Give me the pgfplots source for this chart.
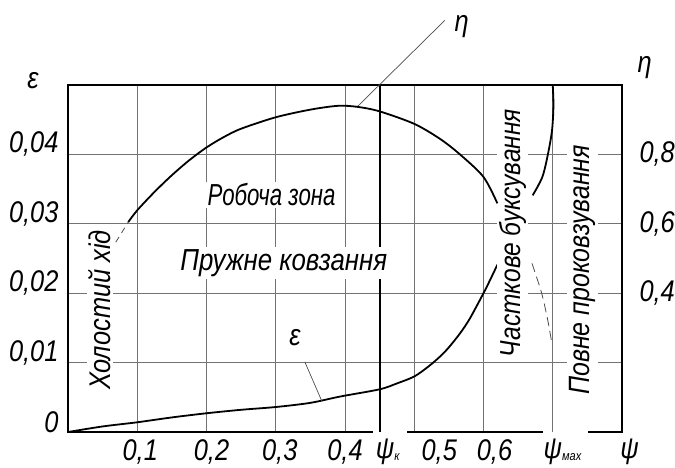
\documentclass[border=0pt]{standalone}
\usepackage{graphicx}
\usepackage{pgfplots}
\pgfplotsset{compat=1.18}
\usepackage{fontspec}
\setmainfont{Liberation Sans}[FakeStretch=0.85]
\newcommand{\lbl}{\itshape\fontsize{30}{32}\selectfont}
\newcommand{\txt}[1]{\itshape\fontsize{#1}{#1}\selectfont}
\begin{document}
\begin{tikzpicture}
\begin{axis}[
  scale only axis, width=554bp, height=347bp,
  xmin=0, xmax=0.8, ymin=0, ymax=0.05,
  axis line style={line width=2.2bp},
  clip=false, tick pos=left,
  scaled y ticks=false, scaled x ticks=false,
  xtick={0.1,0.2,0.3,0.4,0.5,0.6,0.7},
  xticklabels={{\hspace*{6bp}0,1},{\hspace*{10bp}0,2},{\hspace*{8bp}0,3},{0,4},{\hspace*{50bp}0,5},{\hspace*{22bp}0,6},{}},
  ytick={0,0.01,0.02,0.03,0.04},
  yticklabels={{0},{0,01},{0,02},{0,03},{0,04}},
  major tick length=0pt,
  grid=major,
  major grid style={black!55, line width=0.8bp},
  xticklabel style={font=\lbl, anchor=center, yshift=-20bp},
  yticklabel style={font=\lbl, anchor=east, xshift=-6bp, yshift=10bp},
]
% epsilon curve
\addplot[black, line width=1.8bp, smooth] coordinates {
 (0,0) (0.05,0.0008) (0.1,0.0014) (0.15,0.0021) (0.2,0.0027) (0.25,0.0032)
 (0.3,0.0036) (0.35,0.0042) (0.3925,0.0051) (0.45,0.00615) (0.475,0.0070) (0.5,0.0080)
 (0.52,0.0094) (0.537,0.01085) (0.55,0.0122) (0.566,0.0142) (0.58,0.0163) (0.6,0.0200) (0.61,0.0220) (0.62,0.0241)};
% dashed continuation
\addplot[black!70, line width=0.8bp, dash pattern=on 9bp off 5bp, smooth] coordinates {
 (0.67,0.0243) (0.684,0.020) (0.693,0.016) (0.698,0.0132)};
% gaps in the bottom axis line
\node[fill=white, inner sep=0pt, minimum width=34bp, minimum height=6bp] at (axis cs:0.4646,0) {};
\node[fill=white, inner sep=0pt, minimum width=45bp, minimum height=6bp] at (axis cs:0.718,0) {};
\draw[line width=2.2bp] (axis cs:0.45,0) -- (axis cs:0.45,0.05);
\draw[black!55, line width=0.8bp] (axis cs:0.7,0) -- (axis cs:0.7,0.003);
% texts
\node[font=\txt{30}, rotate=90, fill=white, inner sep=2bp] at (axis cs:0.046,0.01758) {Холостий хід};
\node[font=\txt{30.5}, fill=white, inner sep=2bp] at (axis cs:0.294,0.03415) {\scalebox{0.86}[1]{Робоча зона}};
\node[font=\txt{30.5}, fill=white, inner sep=2bp] at (axis cs:0.3117,0.02435) {Пружне ковзання};
\node[font=\txt{29}, rotate=90, fill=white, inner sep=2bp] at (axis cs:0.642,0.02867) {Часткове буксування};
\node[font=\txt{29.5}, rotate=90, fill=white, inner sep=2bp] at (axis cs:0.743,0.02334) {Повне проковзування};
\node[font=\lbl] at (axis cs:0.3276,0.01354) {ε};
\draw[black!70, line width=0.7bp] (axis cs:0.342,0.0101) -- (axis cs:0.3665,0.00446);
\node[font=\lbl] at (axis cs:-0.0505,0.0507) {ε};
\node[font=\lbl] at (axis cs:0.811,-0.0029) {ψ};
\node[font=\lbl] at (axis cs:0.4618,-0.0029) {ψ\raisebox{-2bp}{\fontsize{13}{13}\selectfont к}};
\node[font=\lbl] at (axis cs:0.714,-0.0029) {ψ\raisebox{-2bp}{\fontsize{13}{13}\selectfont мах}};
\node[font=\lbl] at (axis cs:0.5685,0.05836) {η};
\node[font=\lbl] at (axis cs:0.8326,0.05245) {η};
\draw[black!70, line width=0.7bp] (axis cs:0.544,0.0593) -- (axis cs:0.418,0.0469);
\end{axis}
\begin{axis}[
  scale only axis, width=554bp, height=347bp,
  xmin=0, xmax=0.8, ymin=0, ymax=1,
  hide x axis, axis y line*=right, axis line style={draw=none},
  ytick={0.4,0.6,0.8}, yticklabels={{0,4},{0,6},{0,8}},
  major tick length=0pt,
  yticklabel style={font=\lbl, anchor=west, xshift=14bp},
  clip=false,
]
\addplot[black!70, line width=0.8bp, dash pattern=on 6bp off 5bp] coordinates {(0.069,0.547) (0.087,0.605)};
\addplot[black, line width=1.8bp, smooth] coordinates {
 (0.087,0.605) (0.1,0.639) (0.125,0.692) (0.15,0.74) (0.175,0.783) (0.2,0.82)
 (0.225,0.85) (0.25,0.874) (0.3,0.907) (0.35,0.929) (0.39,0.94) (0.418,0.937)
 (0.45,0.924) (0.5,0.888) (0.537,0.845) (0.566,0.80) (0.6,0.735) (0.62,0.659)};
\addplot[black, line width=1.8bp, smooth, tension=0.5] coordinates {
 (0.7,1.0) (0.701,0.94) (0.699,0.87) (0.693,0.80) (0.685,0.735) (0.671,0.682)};
\end{axis}
\pgfresetboundingbox
\path[use as bounding box] (-68bp,-36bp) rectangle (607bp,432bp);
\end{tikzpicture}
\end{document}
